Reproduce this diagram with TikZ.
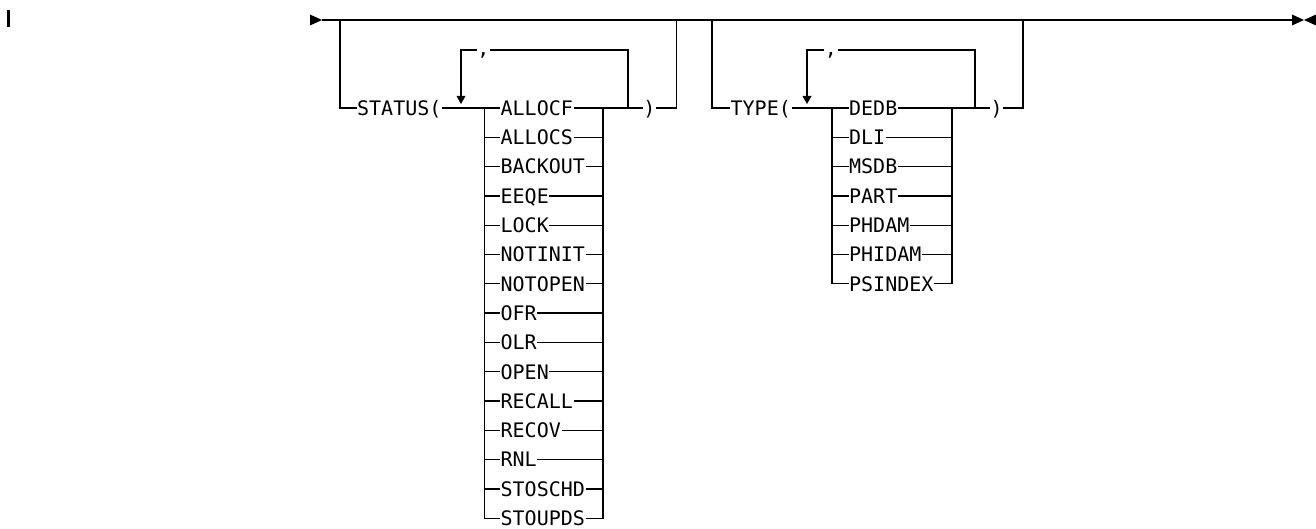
\documentclass[tikz,border=0pt]{standalone}
\usepackage{fontspec}
\setmonofont{DejaVu Sans Mono}
\begin{document}
\begin{tikzpicture}[x=1pt,y=-1pt,line width=1.3pt,
  kw/.style={font=\ttfamily\fontsize{20}{24}\selectfont,inner sep=0pt,
    text height=14.6pt,text depth=0pt}]
\useasboundingbox (0,0) rectangle (1316,529);
\fill (7,10) rectangle (10.4,27);
% main line
\coordinate (in) at (322,20);
\coordinate (out) at (1304,20);
\fill (in) -- ++(-12,-5.5) -- ++(0,11) -- cycle;
\draw (in) -- ([xshift=-12]out);
\fill (out) -- ++(-12,-5.5) -- ++(0,11) -- cycle;
\fill (out) -- ++(12,-5.5) -- ++(0,11) -- cycle;

% STATUS( ... )
\coordinate (sl) at (340,20);
\coordinate (sr) at (676.5,20);
\node[kw,anchor=west] (status) at (356.5,108) {STATUS(};
\coordinate (scl) at (484.5,108);
\coordinate (scr) at (603,108);
\node[kw] (sclose) at (649.5,108) {)};
\draw (sl) |- (status.west);
\draw (status.east) -- (scl);
\draw (scr) -- (sclose.west);
\draw (sclose.east) -| (sr);
\foreach \w [count=\k from 0] in {ALLOCF,ALLOCS,BACKOUT,EEQE,LOCK,NOTINIT,NOTOPEN,OFR,OLR,OPEN,RECALL,RECOV,RNL,STOSCHD,STOUPDS} {
  \node[kw,anchor=west] (s\k) at (500,108+29.3*\k) {\w};
  \draw (scl |- s\k.west) -- (s\k.west);
  \draw (s\k.east) -- (scr |- s\k.east);
}
\draw (scl) |- (s14.west);
\draw (s14.east) -| (scr);
% repeat loop
\coordinate (sa) at (461,104);
\coordinate (slt) at (461,50);
\coordinate (srt) at (628,50);
\coordinate (slr) at (628,108);
\node[kw,anchor=base,text height=,text depth=] (scomma) at (483.5,56) {,};
\fill (sa) -- ++(-4.5,-8) -- ++(9,0) -- cycle;
\draw (sa) ++(0,-8) -- (slt) -- (scomma.west |- slt);
\draw (scomma.east |- srt) -- (srt) -- (slr);

% TYPE( ... )
\coordinate (tl) at (712,20);
\coordinate (tr) at (1023,20);
\node[kw,anchor=west] (type) at (730,108) {TYPE(};
\coordinate (tcl) at (832,108);
\coordinate (tcr) at (952,108);
\node[kw] (tclose) at (996.7,108) {)};
\draw (tl) |- (type.west);
\draw (type.east) -- (tcl);
\draw (tcr) -- (tclose.west);
\draw (tclose.east) -| (tr);
\foreach \w [count=\k from 0] in {DEDB,DLI,MSDB,PART,PHDAM,PHIDAM,PSINDEX} {
  \node[kw,anchor=west] (t\k) at (848.5,108+29.3*\k) {\w};
  \draw (tcl |- t\k.west) -- (t\k.west);
  \draw (t\k.east) -- (tcr |- t\k.east);
}
\draw (tcl) |- (t6.west);
\draw (t6.east) -| (tcr);
% repeat loop
\coordinate (ta) at (807,104);
\coordinate (tlt) at (807,50);
\coordinate (trt) at (975,50);
\coordinate (tlr) at (975,108);
\node[kw,anchor=base,text height=,text depth=] (tcomma) at (831,56) {,};
\fill (ta) -- ++(-4.5,-8) -- ++(9,0) -- cycle;
\draw (ta) ++(0,-8) -- (tlt) -- (tcomma.west |- tlt);
\draw (tcomma.east |- trt) -- (trt) -- (tlr);
\end{tikzpicture}
\end{document}
